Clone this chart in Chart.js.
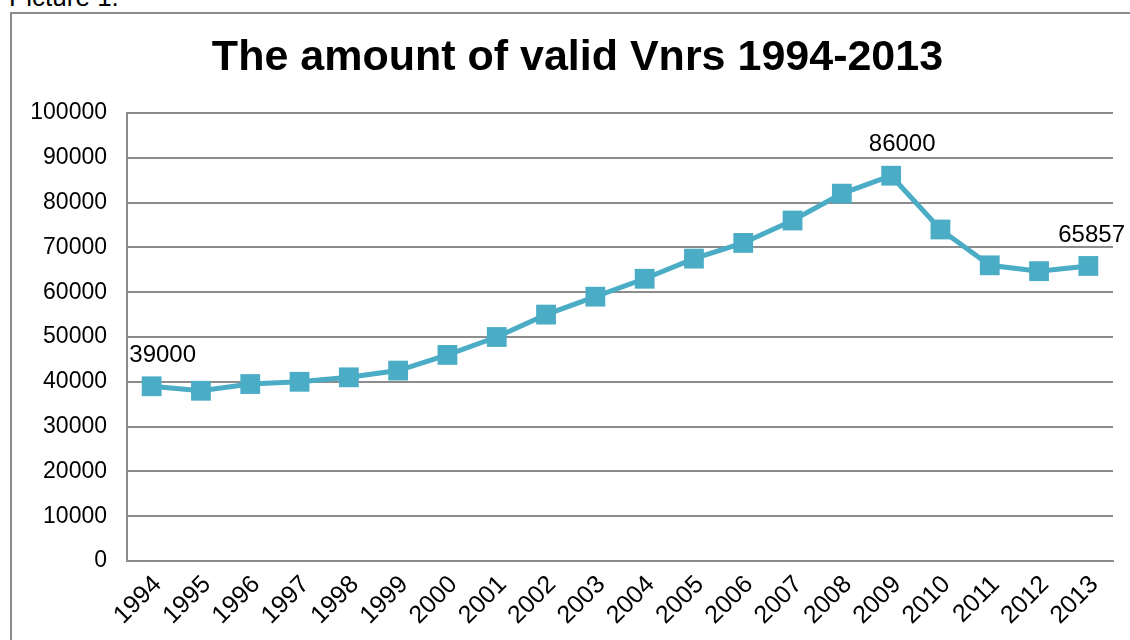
<!DOCTYPE html>
<html>
<head>
<meta charset="utf-8">
<script src="https://cdn.jsdelivr.net/npm/chart.js@4/dist/chart.umd.min.js"></script>
<style>
  body { margin: 0; background: #fff; overflow: hidden; font-family: "Liberation Sans", Arial, sans-serif; }
  #caption { position: absolute; left: 9px; top: -18px; font-size: 26px; color: #000; white-space: nowrap; }
  #frame { position: absolute; left: 10px; top: 12px; width: 1130px; height: 640px; border: 2px solid #8c8c8c; box-sizing: border-box; }
  #wrap { position: absolute; left: 0; top: 0; width: 1118px; height: 626px; }
  #title { position: absolute; left: 0; top: 34px; width: 1155px; text-align: center; font-size: 43px; line-height: 1; font-weight: bold; color: #000; white-space: nowrap; }
</style>
</head>
<body>
<div id="caption">Picture 1.</div>
<div id="frame"><div id="wrap"><canvas id="myLine"></canvas></div></div>
<div id="title">The amount of valid Vnrs 1994-2013</div>
<script>
const years = ["1994","1995","1996","1997","1998","1999","2000","2001","2002","2003",
               "2004","2005","2006","2007","2008","2009","2010","2011","2012","2013"];
const validVnrs = [39000, 38000, 39500, 40000, 41000, 42500, 46000, 50000, 55000, 59000,
                   63000, 67500, 71000, 76000, 82000, 86000, 74000, 66000, 64700, 65857];
const labelledYears = ["1994", "2009", "2013"];
const yTicks = [0, 10000, 20000, 30000, 40000, 50000, 60000, 70000, 80000, 90000, 100000];

const teal = '#4bacc6'
const gridGrey = '#8c8c8c'
const fam = '"Liberation Sans", Arial, sans-serif'

// only a few points carry their value, kept inside the frame
const pointLabels = {
    id: 'pointLabels',
    afterDatasetsDraw(chart) {
        const ctx = chart.ctx
        const meta = chart.getDatasetMeta(0)
        ctx.save()
        ctx.font = '24px ' + fam
        ctx.fillStyle = '#000'
        ctx.textAlign = 'center'
        ctx.textBaseline = 'middle'
        meta.data.forEach((pt, i) => {
            if (labelledYears.includes(years[i])) {
                const txt = String(validVnrs[i])
                const half = ctx.measureText(txt).width / 2
                let x = pt.x + 11
                if (x + half > chart.width - 5) x = chart.width - 5 - half
                ctx.fillText(txt, x, pt.y - 31)
            }
        })
        ctx.restore()
    }
}

const cvs = document.getElementById('myLine')
new Chart(cvs, {
    type: 'line',
    data: {
        labels: years,
        datasets: [{
            label: 'Valid Vnrs',
            data: validVnrs,
            borderColor: teal,
            backgroundColor: teal,
            borderWidth: 5,
            pointStyle: 'rect',
            pointRadius: 14,
            pointHoverRadius: 14,
            pointBorderWidth: 0,
            tension: 0
        }]
    },
    plugins: [pointLabels],
    options: {
        responsive: true,
        maintainAspectRatio: false,
        animation: false,
        layout: { padding: { top: 99, right: 17, left: 0, bottom: 0 } },
        plugins: {
            legend: { display: false },
            tooltip: { enabled: false },
            title: { display: false }
        },
        scales: {
            x: {
                offset: true,
                grid: { display: false, drawTicks: false },
                border: { display: true, color: gridGrey, width: 2 },
                ticks: {
                    color: '#000',
                    font: { family: fam, size: 25 },
                    minRotation: 45,
                    maxRotation: 45,
                    autoSkip: false,
                    padding: 9,
                    labelOffset: 6
                },
                afterFit: (s) => { s.height = 79 }
            },
            y: {
                min: 0,
                max: 100000,
                afterBuildTicks: (s) => { s.ticks = yTicks.map(v => ({ value: v })) },
                grid: { color: gridGrey, lineWidth: 2, drawTicks: false },
                border: { display: true, color: gridGrey, width: 2 },
                ticks: {
                    color: '#000',
                    font: { family: fam, size: 23 },
                    padding: 20,
                    callback: (v) => String(v)
                },
                afterFit: (s) => { s.width = 115 }
            }
        }
    }
});
</script>
</body>
</html>
